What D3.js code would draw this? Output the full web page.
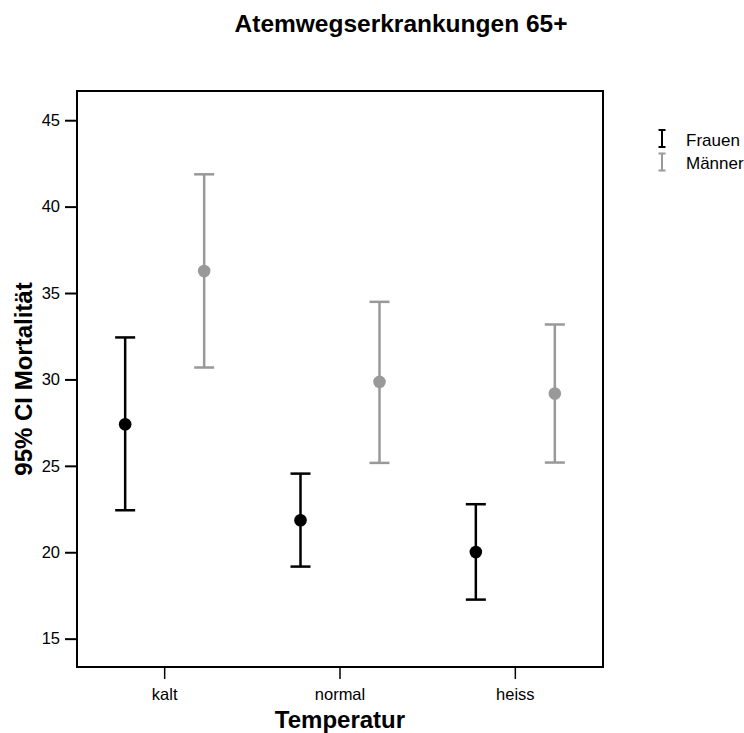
<!DOCTYPE html>
<html><head><meta charset="utf-8">
<script src="https://cdn.jsdelivr.net/npm/d3@7"></script>
<style>body{margin:0;background:#fff}svg{display:block}text{font-family:"Liberation Sans",Arial,sans-serif}</style>
</head><body>
<svg id="c" width="744" height="733"></svg>
<script>
const categories = ["kalt","normal","heiss"];
const seriesNames = ["Frauen","Männer"];
const seriesColors = ["#000000","#999999"];
const frauenMean  = [27.41, 21.85, 20.01];
const frauenLower = [22.43, 19.17, 17.26];
const frauenUpper = [32.43, 24.55, 22.78];
const maennerMean  = [36.27, 29.86, 29.19];
const maennerLower = [30.69, 25.17, 25.19];
const maennerUpper = [41.87, 34.49, 33.18];
const yTicks = [15,20,25,30,35,40,45];

const FONT = "Liberation Sans, Arial, sans-serif";
const svg = d3.select("#c");
const m = {l:77, r:603, t:91, b:667};
const x = d3.scaleBand().domain(categories).range([m.l, m.r]);
const xs = d3.scalePoint().domain(seriesNames).range([-39.5, 39.5]);
const y = d3.scaleLinear().domain([13.36, 46.69]).range([m.b, m.t]);

const series = [
  {name:"Frauen", mean:frauenMean, lo:frauenLower, hi:frauenUpper, color:seriesColors[0]},
  {name:"Männer", mean:maennerMean, lo:maennerLower, hi:maennerUpper, color:seriesColors[1]}
];

// frame
svg.append("rect").attr("x", m.l).attr("y", m.t).attr("width", m.r-m.l).attr("height", m.b-m.t)
  .attr("fill","none").attr("stroke","#000").attr("stroke-width",2);

// y axis
const ya = svg.append("g").attr("transform",`translate(${m.l},0)`)
  .call(d3.axisLeft(y).tickValues(yTicks).tickSize(12).tickPadding(5));
ya.select(".domain").remove();
ya.selectAll("line").attr("stroke","#000").attr("stroke-width",2);
ya.selectAll("text").attr("font-size",16.5).attr("fill","#000").attr("font-family",FONT);

// x axis
const xa = svg.append("g").attr("transform",`translate(0,${m.b})`)
  .call(d3.axisBottom(x).tickSize(12).tickPadding(9));
xa.select(".domain").remove();
xa.selectAll("line").attr("stroke","#000").attr("stroke-width",1.5);
xa.selectAll("text").attr("font-size",16.5).attr("fill","#000").attr("font-family",FONT);

// error bars
series.forEach(s => {
  const g = svg.append("g");
  categories.forEach((c,i) => {
    const cx = x(c) + x.bandwidth()/2 + xs(s.name);
    g.append("line").attr("x1",cx).attr("x2",cx).attr("y1",y(s.lo[i])).attr("y2",y(s.hi[i]))
      .attr("stroke",s.color).attr("stroke-width",2.5);
    [s.lo[i], s.hi[i]].forEach(v => {
      g.append("line").attr("x1",cx-10).attr("x2",cx+10).attr("y1",y(v)).attr("y2",y(v))
        .attr("stroke",s.color).attr("stroke-width",2.5);
    });
    g.append("circle").attr("cx",cx).attr("cy",y(s.mean[i])).attr("r",6.3).attr("fill",s.color);
  });
});

// title
svg.append("text").attr("x",401).attr("y",31.5).attr("text-anchor","middle")
  .attr("font-size",24.5).attr("font-weight","bold").text("Atemwegserkrankungen 65+");
// axis titles
svg.append("text").attr("x",(m.l+m.r)/2).attr("y",727.5).attr("text-anchor","middle")
  .attr("font-size",24).attr("font-weight","bold").text("Temperatur");
svg.append("text").attr("transform",`translate(32,${(m.t+m.b)/2}) rotate(-90)`).attr("text-anchor","middle")
  .attr("font-size",24).attr("font-weight","bold").text("95% CI Mortalität");

// legend
series.forEach((s,i) => {
  const ly = 138.5 + i*23.5;
  const g = svg.append("g");
  g.append("line").attr("x1",662).attr("x2",662).attr("y1",ly-8.5).attr("y2",ly+8.5).attr("stroke",s.color).attr("stroke-width",2);
  [ly-8.5, ly+8.5].forEach(v => g.append("line").attr("x1",658.5).attr("x2",665.5).attr("y1",v).attr("y2",v).attr("stroke",s.color).attr("stroke-width",2));
  g.append("text").attr("x",686).attr("y",ly+7).attr("font-size",17).attr("fill","#000").text(s.name);
});
</script>
</body></html>
